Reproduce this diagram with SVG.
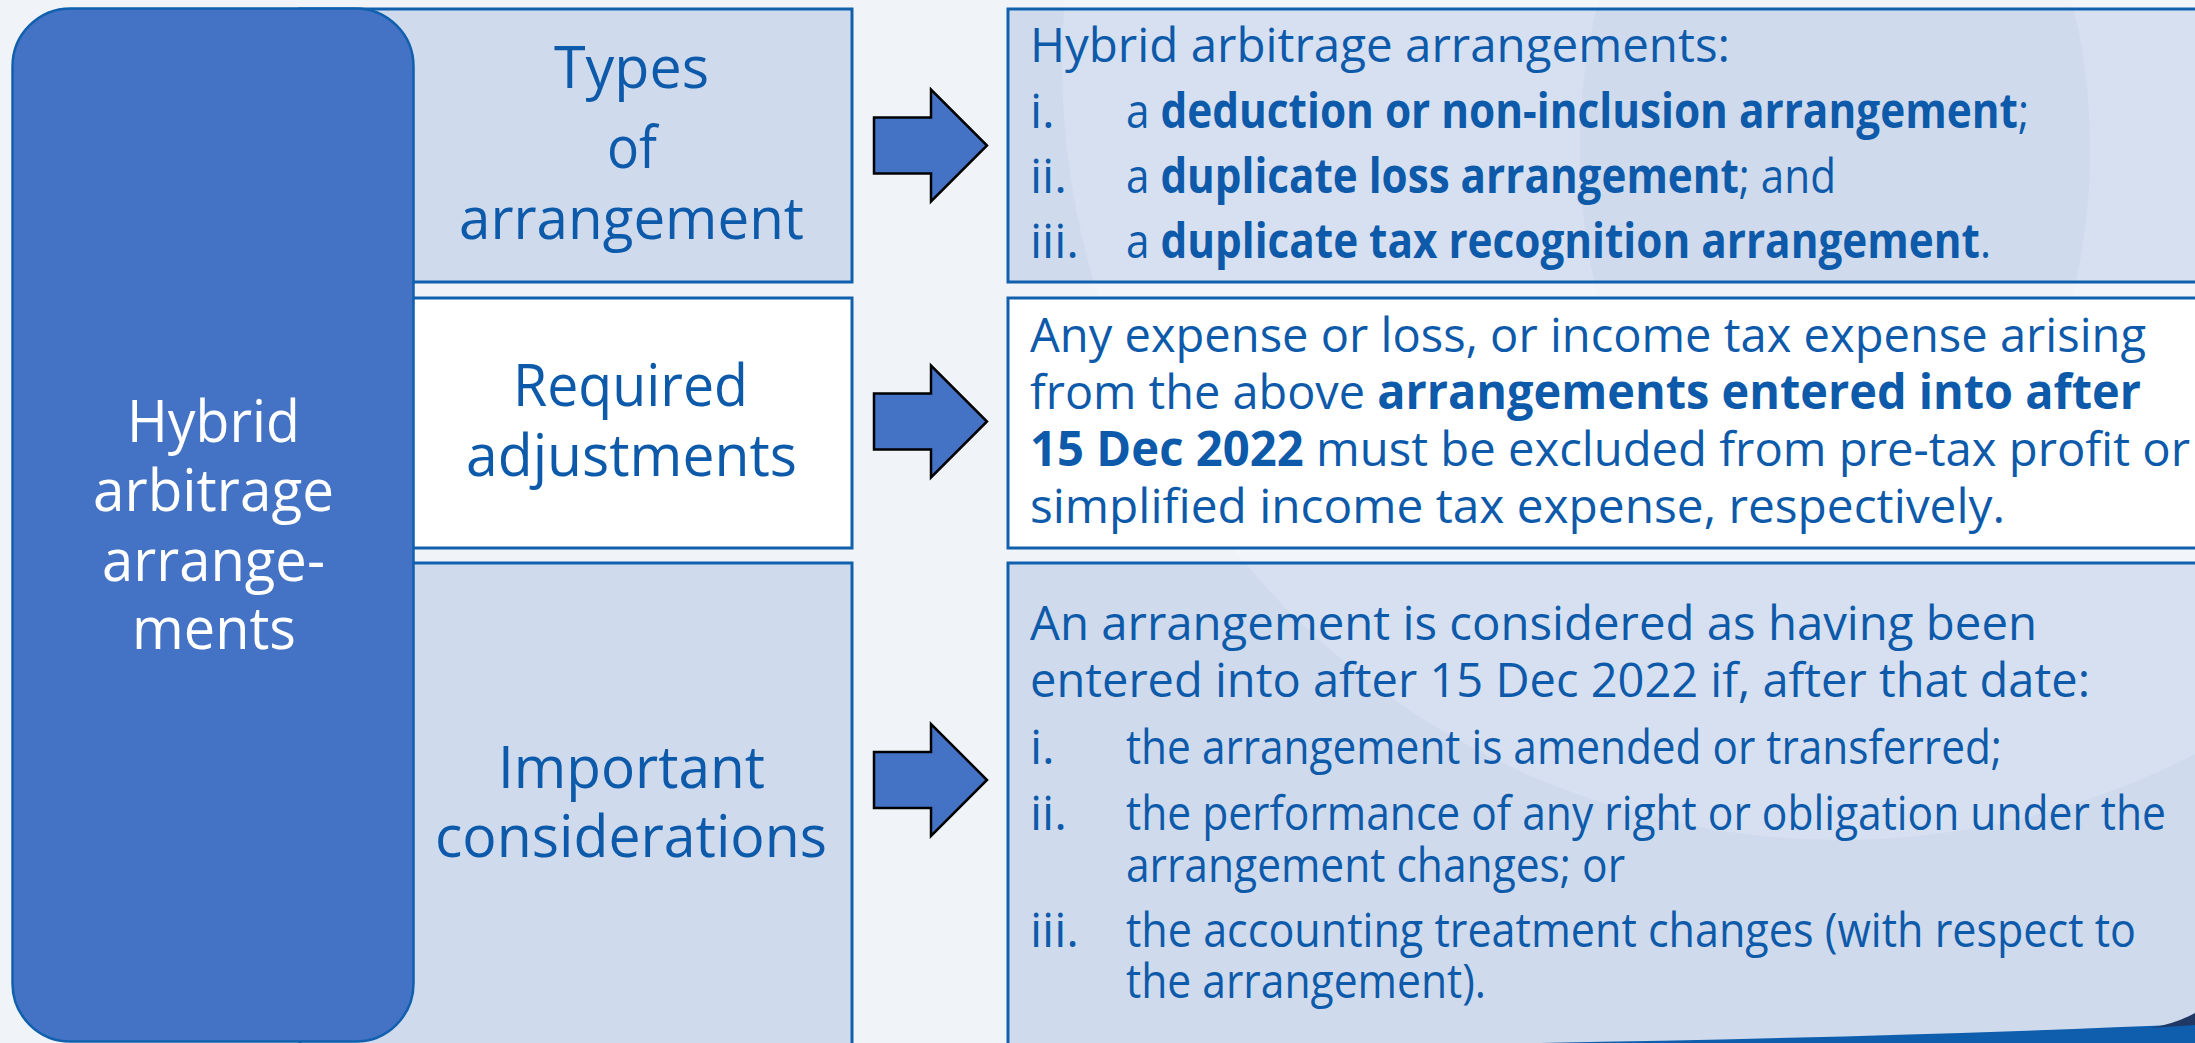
<svg xmlns="http://www.w3.org/2000/svg" width="2195" height="1043" viewBox="0 0 2195 1043">
  <style>
    .box{fill:none;stroke:#1160AE;stroke-width:3}
    .shade{fill:#CFDAED}
    .plain{fill:#FFFFFF}
    .head{font-family:"Open Sans","Noto Sans",sans-serif;font-size:59px;fill:#0E5AAA}
    .side{font-family:"Open Sans","Noto Sans",sans-serif;font-size:59px;fill:#FFFFFF}
    .body{font-family:"Open Sans","Noto Sans",sans-serif;font-size:48px;fill:#0E5AAA}
    .b{font-weight:700}
    .arrow{fill:#4472C4;stroke:#000000;stroke-width:2.5}
  </style>

  <!-- slide background -->
  <rect x="0" y="0" width="2195" height="1043" fill="#F0F4F9"/>

  <!-- middle column: category boxes -->
  <g id="types-label">
    <rect class="shade" x="300" y="9" width="552" height="273"/>
    <rect class="box" x="300" y="9" width="552" height="273"/>
    <text class="head" x="554" y="88" textLength="155" lengthAdjust="spacingAndGlyphs">Types</text>
    <text class="head" x="607" y="168" textLength="50" lengthAdjust="spacingAndGlyphs">of</text>
    <text class="head" x="459" y="239" textLength="345" lengthAdjust="spacingAndGlyphs">arrangement</text>
  </g>
  <g id="adjustments-label">
    <rect class="plain" x="300" y="298" width="552" height="250"/>
    <rect class="box" x="300" y="298" width="552" height="250"/>
    <text class="head" x="513" y="406" textLength="235" lengthAdjust="spacingAndGlyphs">Required</text>
    <text class="head" x="466" y="476" textLength="331" lengthAdjust="spacingAndGlyphs">adjustments</text>
  </g>
  <g id="considerations-label">
    <rect class="shade" x="300" y="563" width="552" height="520"/>
    <rect class="box" x="300" y="563" width="552" height="520"/>
    <text class="head" x="498" y="788" textLength="267" lengthAdjust="spacingAndGlyphs">Important</text>
    <text class="head" x="435" y="857" textLength="392" lengthAdjust="spacingAndGlyphs">considerations</text>
  </g>

  <!-- left column: main topic -->
  <g id="hybrid-arbitrage">
    <rect x="12.5" y="8.5" width="401" height="1033" rx="58" ry="58" fill="#4472C4" stroke="#1160AE" stroke-width="2.5"/>
    <text class="side" x="127" y="442" textLength="173" lengthAdjust="spacingAndGlyphs">Hybrid</text>
    <text class="side" x="93" y="511" textLength="241" lengthAdjust="spacingAndGlyphs">arbitrage</text>
    <text class="side" x="102" y="581" textLength="223" lengthAdjust="spacingAndGlyphs">arrange-</text>
    <text class="side" x="132" y="649" textLength="164" lengthAdjust="spacingAndGlyphs">ments</text>
  </g>

  <!-- right column box fills -->
  <rect class="shade" x="1008" y="9" width="1250" height="273"/>
  <rect class="plain" x="1008" y="298" width="1250" height="250"/>
  <rect class="shade" x="1008" y="563" width="1250" height="520"/>

  <!-- faint light disc of the slide backdrop, with a darker band left in it -->
  <path fill="#FFFFFF" fill-opacity="0.16" fill-rule="evenodd"
        d="M1062,62 a778,778 0 1,0 1556,0 a778,778 0 1,0 -1556,0 Z
           M1580,150 a255,400 0 1,0 510,0 a255,400 0 1,0 -510,0 Z"/>

  <!-- right column: detail boxes -->
  <g id="types-detail">
    <rect class="box" x="1008" y="9" width="1250" height="273"/>
    <text class="body" x="1030" y="62" textLength="700" lengthAdjust="spacingAndGlyphs">Hybrid arbitrage arrangements:</text>
    <text class="body" x="1030" y="128">i.</text>
    <text class="body" x="1126" y="128" textLength="903" lengthAdjust="spacingAndGlyphs">a <tspan class="b">deduction or non-inclusion arrangement</tspan>;</text>
    <text class="body" x="1030" y="193">ii.</text>
    <text class="body" x="1126" y="193" textLength="710" lengthAdjust="spacingAndGlyphs">a <tspan class="b">duplicate loss arrangement</tspan>; and</text>
    <text class="body" x="1030" y="258">iii.</text>
    <text class="body" x="1126" y="258" textLength="865" lengthAdjust="spacingAndGlyphs">a <tspan class="b">duplicate tax recognition arrangement</tspan>.</text>
  </g>
  <g id="adjustments-detail">
    <rect class="box" x="1008" y="298" width="1250" height="250"/>
    <text class="body" x="1030" y="352" textLength="1116" lengthAdjust="spacingAndGlyphs">Any expense or loss, or income tax expense arising</text>
    <text class="body" x="1030" y="409" textLength="1111" lengthAdjust="spacingAndGlyphs">from the above <tspan class="b">arrangements entered into after</tspan></text>
    <text class="body" x="1030" y="466" textLength="1160" lengthAdjust="spacingAndGlyphs"><tspan class="b">15 Dec 2022</tspan> must be excluded from pre-tax profit or</text>
    <text class="body" x="1030" y="523" textLength="975" lengthAdjust="spacingAndGlyphs">simplified income tax expense, respectively.</text>
  </g>
  <g id="considerations-detail">
    <rect class="box" x="1008" y="563" width="1250" height="520"/>
    <text class="body" x="1030" y="640" textLength="1007" lengthAdjust="spacingAndGlyphs">An arrangement is considered as having been</text>
    <text class="body" x="1030" y="697" textLength="1060" lengthAdjust="spacingAndGlyphs">entered into after 15 Dec 2022 if, after that date:</text>
    <text class="body" x="1030" y="764">i.</text>
    <text class="body" x="1126" y="764" textLength="876" lengthAdjust="spacingAndGlyphs">the arrangement is amended or transferred;</text>
    <text class="body" x="1030" y="830">ii.</text>
    <text class="body" x="1126" y="830" textLength="1040" lengthAdjust="spacingAndGlyphs">the performance of any right or obligation under the</text>
    <text class="body" x="1126" y="882" textLength="499" lengthAdjust="spacingAndGlyphs">arrangement changes; or</text>
    <text class="body" x="1030" y="947">iii.</text>
    <text class="body" x="1126" y="947" textLength="1010" lengthAdjust="spacingAndGlyphs">the accounting treatment changes (with respect to</text>
    <text class="body" x="1126" y="998" textLength="360" lengthAdjust="spacingAndGlyphs">the arrangement).</text>
  </g>

  <!-- block arrows linking each category to its detail -->
  <g id="connectors">
    <path class="arrow" d="M874,117.5 H931 V89.5 L987,145.5 L931,201.5 V173.5 H874 Z"/>
    <path class="arrow" d="M874,393.5 H931 V365.5 L987,421.5 L931,477.5 V449.5 H874 Z"/>
    <path class="arrow" d="M874,752 H931 V724 L987,780 L931,836 V808 H874 Z"/>
  </g>

  <!-- corner swoosh -->
  <path d="M1540,1043 Q1900,1037 2195,1024 V1043 Z" fill="#0F5EAE"/>
  <path d="M2150,1028 Q2175,1024 2195,1013 V1025 Z" fill="#1F3864"/>
</svg>
